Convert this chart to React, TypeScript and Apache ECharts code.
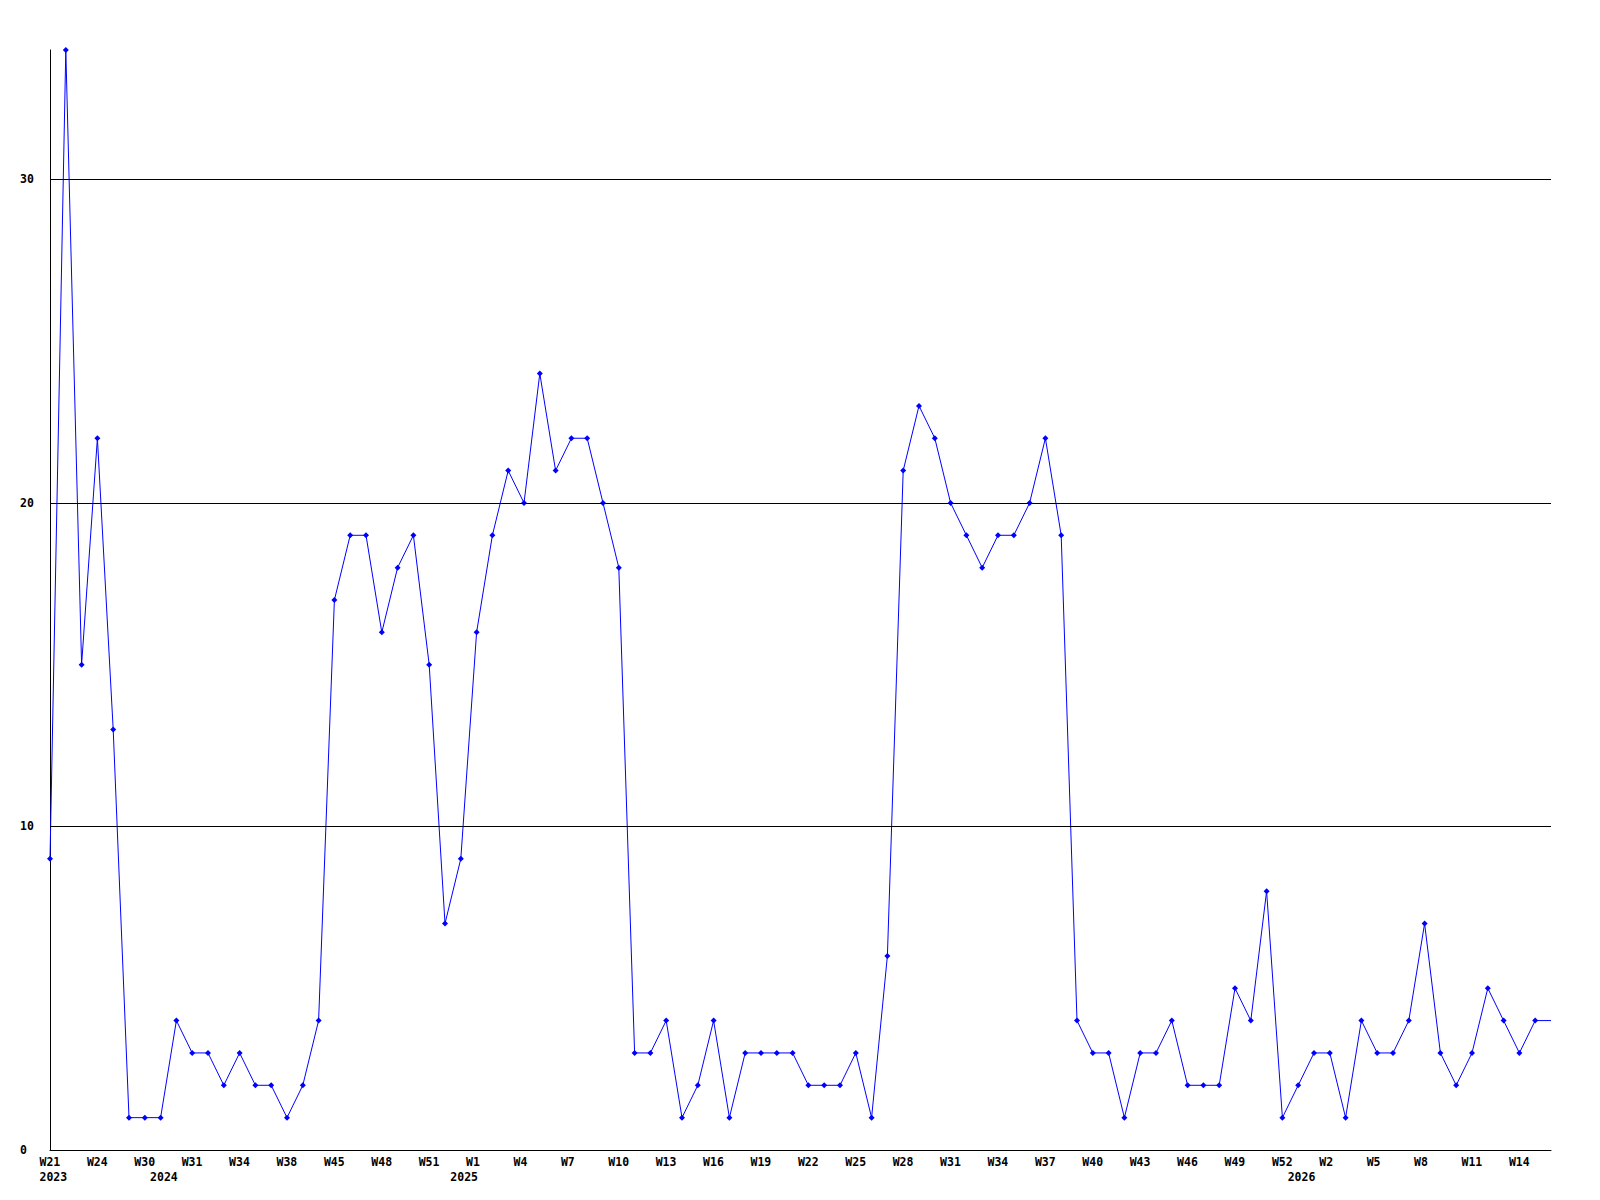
import React, { useEffect, useRef } from "react";
import * as echarts from "echarts";

// Weekly values, one per data point (last point extends the line to the edge)
const values: number[] = [
  9, 34, 15, 22, 13, 1, 1, 1, 4, 3,
  3, 2, 3, 2, 2, 1, 2, 4, 17, 19,
  19, 16, 18, 19, 15, 7, 9, 16, 19, 21,
  20, 24, 21, 22, 22, 20, 18, 3, 3, 4,
  1, 2, 4, 1, 3, 3, 3, 3, 2, 2,
  2, 3, 1, 6, 21, 23, 22, 20, 19, 18,
  19, 19, 20, 22, 19, 4, 3, 3, 1, 3,
  3, 4, 2, 2, 2, 5, 4, 8, 1, 2,
  3, 3, 1, 4, 3, 3, 4, 7, 3, 2,
  3, 5, 4, 3, 4, 4,
];

// Week tick labels, shown on every third point
const weekTicks: string[] = [
  "W21", "W24", "W30", "W31", "W34", "W38", "W45", "W48", "W51", "W1",
  "W4", "W7", "W10", "W13", "W16", "W19", "W22", "W25", "W28", "W31",
  "W34", "W37", "W40", "W43", "W46", "W49", "W52", "W2", "W5", "W8",
  "W11", "W14",
];

// Year labels: point index where the year begins
const yearIndex: number[] = [0, 7, 26, 79];
const yearLabels: string[] = ["2023", "2024", "2025", "2026"];

const gridValues: number[] = [10, 20, 30];
const yTickLabels: number[] = [0, 10, 20, 30];

const FONT = "'DejaVu Sans Mono', 'Liberation Mono', monospace";
const FS = 11.5;
const CW = FS * 0.602; // monospace advance
const LEFT_SHIFT = 10.5; // labels start this far left of their tick

// rich styles that make a label start LEFT_SHIFT px left of its tick
function richFor(n: number) {
  const w = n * CW;
  const box = LEFT_SHIFT * 2;
  const pad = w > box ? [0, 0, 0, w - box] : [0, box - w, 0, 0];
  return {
    fontFamily: FONT,
    fontWeight: "bold",
    fontSize: FS,
    color: "#000",
    padding: pad,
  };
}
const rich = { c2: richFor(2), c3: richFor(3), c4: richFor(4) };
const wrap = (s: string) => (s ? `{c${s.length}|${s}}` : "");

export default function App() {
  const ref = useRef<HTMLDivElement>(null);

  useEffect(() => {
    if (!ref.current) return;
    const chart = echarts.init(ref.current, undefined, { renderer: "svg" });
    const categories = values.map((_, i) => String(i));
    const lastIdx = values.length - 1;

    chart.setOption({
      animation: false,
      backgroundColor: "#ffffff",
      grid: { left: 50, right: 49, top: 50, bottom: 50, containLabel: false },
      xAxis: [
        {
          type: "category",
          data: categories,
          boundaryGap: false,
          axisLine: { show: true, lineStyle: { color: "#000", width: 1 } },
          axisTick: { show: false },
          splitLine: { show: false },
          axisLabel: {
            interval: 0,
            hideOverlap: false,
            margin: 6,
            align: "center",
            rich,
            formatter: (v: string) => {
              const i = Number(v);
              return i % 3 === 0 && weekTicks[i / 3] ? wrap(weekTicks[i / 3]) : "";
            },
          },
        },
        {
          type: "category",
          data: categories,
          boundaryGap: false,
          position: "bottom",
          axisLine: { show: false },
          axisTick: { show: false },
          splitLine: { show: false },
          axisLabel: {
            interval: 0,
            hideOverlap: false,
            margin: 21,
            align: "center",
            rich,
            formatter: (v: string) => {
              const k = yearIndex.indexOf(Number(v));
              return k >= 0 ? wrap(yearLabels[k]) : "";
            },
          },
        },
      ],
      yAxis: {
        type: "value",
        min: 0,
        max: 34,
        interval: 10,
        axisLine: { show: true, lineStyle: { color: "#000", width: 1 } },
        axisTick: { show: false },
        splitLine: { show: false },
        axisLabel: {
          align: "left",
          margin: 30,
          color: "#000",
          fontFamily: FONT,
          fontWeight: "bold",
          fontSize: 11.5,
          formatter: (v: number) => (yTickLabels.indexOf(v) >= 0 ? String(v) : ""),
        },
      },
      series: [
        {
          type: "line",
          xAxisIndex: 0,
          data: values.map((v, i) =>
            i === lastIdx ? { value: v, symbol: "none" } : v
          ),
          symbol: "diamond",
          symbolSize: 6,
          showAllSymbol: true,
          itemStyle: { color: "#0000ff" },
          lineStyle: { color: "#0000ff", width: 1 },
          markLine: {
            silent: true,
            symbol: "none",
            label: { show: false },
            lineStyle: { color: "#000", width: 1, type: "solid" },
            data: gridValues.map((g) => ({ yAxis: g })),
          },
        },
      ],
    });

    return () => chart.dispose();
  }, []);

  return (
    <div
      ref={ref}
      style={{ position: "fixed", left: 0, top: 0, width: 1600, height: 1200 }}
    />
  );
}
